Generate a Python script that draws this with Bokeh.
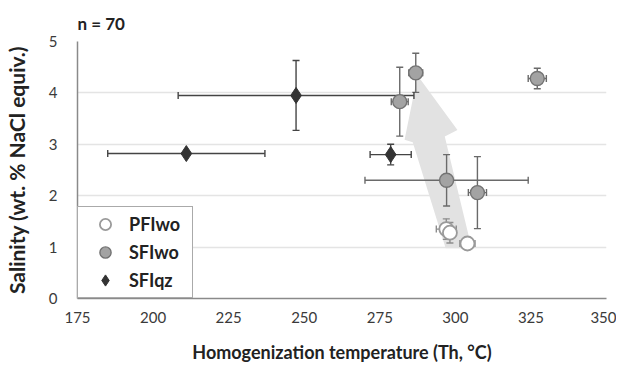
from bokeh.plotting import figure
from bokeh.models import (Range1d, FixedTicker, Whisker, TeeHead, ColumnDataSource,
                          Legend, LegendItem, PolyAnnotation)
from bokeh.embed import file_html
from bokeh.resources import INLINE

# ---------------- data ----------------
x_ticks = [175, 200, 225, 250, 275, 300, 325, 350]
y_ticks = [0, 1, 2, 3, 4, 5]

pfi_x = [297.0, 298.2, 304.0]
pfi_y = [1.35, 1.28, 1.07]
pfi_xerr = [3.3, 0.0, 2.5]
pfi_yerr = [0.20, 0.20, 0.0]

sfiwo_x = [281.6, 286.9, 297.1, 307.3, 327.1]
sfiwo_y = [3.83, 4.39, 2.30, 2.06, 4.28]
sfiwo_xerr = [2.8, 2.3, 27.0, 3.0, 3.0]
sfiwo_yerr = [0.67, 0.38, 0.50, 0.70, 0.20]

sfiqz_x = [211.0, 247.3, 278.6]
sfiqz_y = [2.82, 3.95, 2.80]
sfiqz_xerr = [26.0, 39.0, 6.8]
sfiqz_yerr = [0.0, 0.68, 0.20]

# arrow outline (data units)
arrow_x = [287.5, 300.7, 296.5, 305.4, 296.8, 285.9, 283.2]
arrow_y = [4.34, 3.28, 3.15, 0.98, 0.98, 3.04, 3.09]

FONT = "Lato"

p = figure(width=616, height=365, x_range=Range1d(175, 350), y_range=Range1d(0, 5),
           output_backend="svg", toolbar_location=None,
           min_border_left=76, min_border_right=10, min_border_top=41, min_border_bottom=66)
p.outline_line_color = None
p.xgrid.visible = False
p.ygrid.grid_line_color = "#e4e4e4"
p.ygrid.grid_line_width = 1.5
p.xaxis.ticker = FixedTicker(ticks=x_ticks)
p.yaxis.ticker = FixedTicker(ticks=y_ticks)
for ax in (p.xaxis[0], p.yaxis[0]):
    ax.major_tick_line_color = None
    ax.minor_tick_line_color = None
    ax.axis_line_color = "#8a8a8a"
    ax.axis_line_width = 1.5
    ax.major_label_text_font = FONT
    ax.major_label_text_font_size = "15px"
    ax.major_label_text_color = "#3a3a3a"
    ax.axis_label_text_font = FONT
    ax.axis_label_text_font_style = "bold"
    ax.axis_label_text_color = "#222222"
p.xaxis.axis_label_text_font_size = "18px"
p.yaxis.axis_label_text_font_size = "21px"
p.xaxis.axis_label = "Homogenization temperature (Th, °C)"
p.yaxis.axis_label = "Salinity (wt. % NaCl equiv.)"
p.xaxis.major_label_standoff = 7
p.xaxis.axis_label_standoff = 15
p.yaxis.major_label_standoff = 14
p.yaxis.axis_label_standoff = 17

p.title.text = "n = 70"
p.title.text_font = FONT
p.title.text_font_style = "bold"
p.title.text_font_size = "17px"
p.title.text_color = "#222222"
p.title.align = "left"
p.title.standoff = 16

p.add_layout(PolyAnnotation(xs=arrow_x, ys=arrow_y, fill_color="#e2e2e2", fill_alpha=1.0,
                            line_color=None, level="underlay"))


def add_series(xs, ys, xerr, yerr, err_color):
    src = ColumnDataSource(dict(
        x=xs, y=ys,
        xl=[a - e for a, e in zip(xs, xerr)], xu=[a + e for a, e in zip(xs, xerr)],
        yl=[a - e for a, e in zip(ys, yerr)], yu=[a + e for a, e in zip(ys, yerr)],
    ))
    for dim, base, lo, up in (("width", "y", "xl", "xu"), ("height", "x", "yl", "yu")):
        w = Whisker(source=src, base=base, lower=lo, upper=up, dimension=dim,
                    line_color=err_color, line_width=1.4,
                    upper_head=TeeHead(size=7, line_color=err_color, line_width=1.4),
                    lower_head=TeeHead(size=7, line_color=err_color, line_width=1.4))
        p.add_layout(w)
    return src


s_pfi = add_series(pfi_x, pfi_y, pfi_xerr, pfi_yerr, "#8c8c8c")
s_wo = add_series(sfiwo_x, sfiwo_y, sfiwo_xerr, sfiwo_yerr, "#6a6a6a")
s_qz = add_series(sfiqz_x, sfiqz_y, sfiqz_xerr, sfiqz_yerr, "#444444")

r_pfi = p.scatter("x", "y", source=s_pfi, marker="circle", size=14,
                  fill_color="white", line_color="#9a9a9a", line_width=1.8)
r_wo = p.scatter("x", "y", source=s_wo, marker="circle", size=14,
                 fill_color="#a3a3a3", line_color="#737373", line_width=1.4)
r_qz = p.scatter("x", "y", source=s_qz, marker="diamond", size=16,
                 fill_color="#333333", line_color="#333333", line_width=1)

legend = Legend(items=[LegendItem(label="PFIwo", renderers=[r_pfi]),
                       LegendItem(label="SFIwo", renderers=[r_wo]),
                       LegendItem(label="SFIqz", renderers=[r_qz])],
                location=(0, 0))
legend.label_text_font = FONT
legend.label_text_font_style = "bold"
legend.label_text_font_size = "18px"
legend.label_text_color = "#222222"
legend.border_line_color = "#555555"
legend.border_line_width = 1.5
legend.background_fill_alpha = 1.0
legend.padding = 3
legend.spacing = 0
legend.glyph_height = 28
legend.glyph_width = 48
legend.label_height = 28
legend.label_width = 60
legend.label_standoff = 0
legend.margin = 0
p.add_layout(legend)

open("out.html", "w").write(file_html(p, INLINE))
